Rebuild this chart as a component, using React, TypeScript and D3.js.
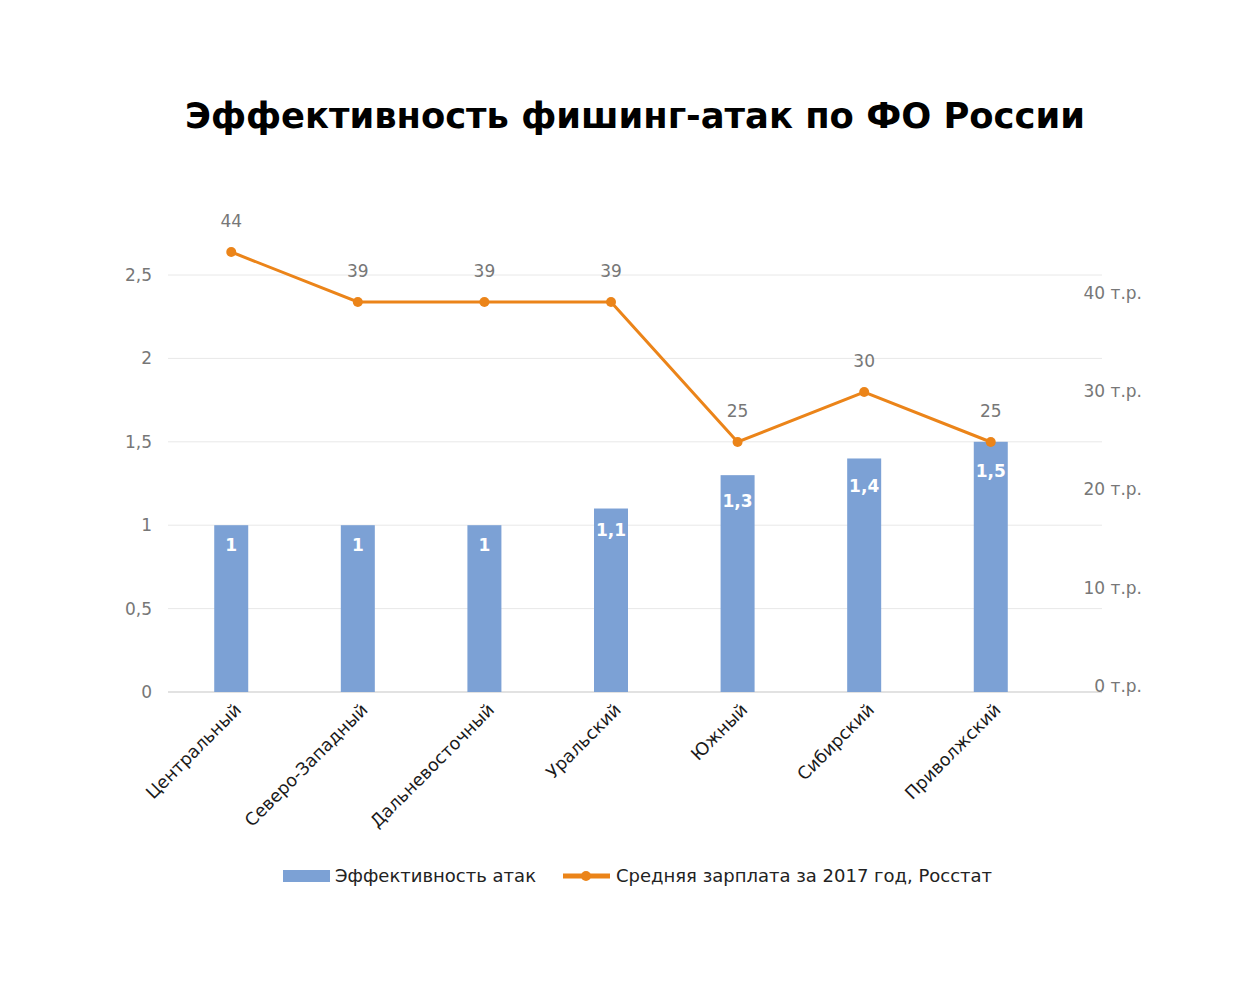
import React from "react";
import * as d3 from "d3";

const categories = ["Центральный", "Северо-Западный", "Дальневосточный", "Уральский", "Южный", "Сибирский", "Приволжский"];
const efficiency = [1, 1, 1, 1.1, 1.3, 1.4, 1.5];
const salary = [44, 39, 39, 39, 25, 30, 25];
const leftTicks = [0, 0.5, 1, 1.5, 2, 2.5];
const rightTicks = [0, 10, 20, 30, 40];
const title = "Эффективность фишинг-атак по ФО России";
const legendBar = "Эффективность атак";
const legendLine = "Средняя зарплата за 2017 год, Росстат";

const W = 1245, H = 1000;
const BLUE = "#7ca1d5";
const ORANGE = "#eb8419";
const GRAY = "#777777";
const FONT = "'DejaVu Sans', sans-serif";

const fmt = (v: number) => String(v).replace(".", ",");

export default function App() {
  const x = d3.scaleBand<string>().domain(categories).range([168, 1054]).paddingInner(0.733).paddingOuter(0.366);
  const yL = d3.scaleLinear().domain([0, 2.5]).range([692, 275]);
  const yR = d3.scaleLinear().domain([0, 41.7]).range([692, 275]);
  const yRLabel = d3.scaleLinear().domain([0, 40]).range([686, 293]);
  const cx = (c: string) => (x(c) as number) + x.bandwidth() / 2;
  const bw = 34;
  const line = d3.line<number>().x((_, i) => cx(categories[i])).y((d) => yR(d));

  return (
    <div style={{ position: "absolute", left: 0, top: 0 }}>
      <svg width={W} height={H} style={{ display: "block", background: "#fff" }} fontFamily={FONT}>
        <text x={635} y={128} textAnchor="middle" fontSize={36} fontWeight="bold" fill="#000"
          textLength={900} lengthAdjust="spacingAndGlyphs">{title}</text>

        {leftTicks.map((t) => (
          <g key={t}>
            <line x1={168} x2={1102} y1={yL(t)} y2={yL(t)} stroke={t === 0 ? "#d9d9d9" : "#e8e8e8"} strokeWidth={t === 0 ? 1.5 : 1} />
            <text x={152} y={yL(t)} dy="0.35em" textAnchor="end" fontSize={17} fill={GRAY}>{fmt(t)}</text>
          </g>
        ))}
        {rightTicks.map((t) => (
          <text key={t} x={1142} y={yRLabel(t)} dy="0.35em" textAnchor="end" fontSize={17} fill={GRAY}>{`${t} т.р.`}</text>
        ))}

        {categories.map((c, i) => (
          <g key={c}>
            <rect x={cx(c) - bw / 2} y={yL(efficiency[i])} width={bw} height={yL(0) - yL(efficiency[i])} fill={BLUE} />
            <text x={cx(c)} y={yL(efficiency[i]) + 20 + (efficiency[i] - 1) * 18} dy="0.35em" textAnchor="middle" fontSize={17} fontWeight="bold" fill="#fff">{fmt(efficiency[i])}</text>
            <text transform={`translate(${cx(c) + 11},${711}) rotate(-45)`} textAnchor="end" fontSize={17.5} fill="#1a1a1a">{c}</text>
          </g>
        ))}

        <path d={line(salary) as string} fill="none" stroke={ORANGE} strokeWidth={3} />
        {salary.map((s, i) => (
          <g key={i}>
            <circle cx={cx(categories[i])} cy={yR(s)} r={5} fill={ORANGE} />
            <text x={cx(categories[i])} y={yR(s) - 31} dy="0.35em" textAnchor="middle" fontSize={17} fill={GRAY}>{s}</text>
          </g>
        ))}

        <g>
          <rect x={283} y={870} width={47} height={12} fill={BLUE} />
          <text x={335} y={876} dy="0.35em" fontSize={18} fill="#222">{legendBar}</text>
          <line x1={563} x2={610} y1={876} y2={876} stroke={ORANGE} strokeWidth={5} />
          <circle cx={586} cy={876} r={5} fill={ORANGE} />
          <text x={616} y={876} dy="0.35em" fontSize={18} fill="#222">{legendLine}</text>
        </g>
      </svg>
    </div>
  );
}
